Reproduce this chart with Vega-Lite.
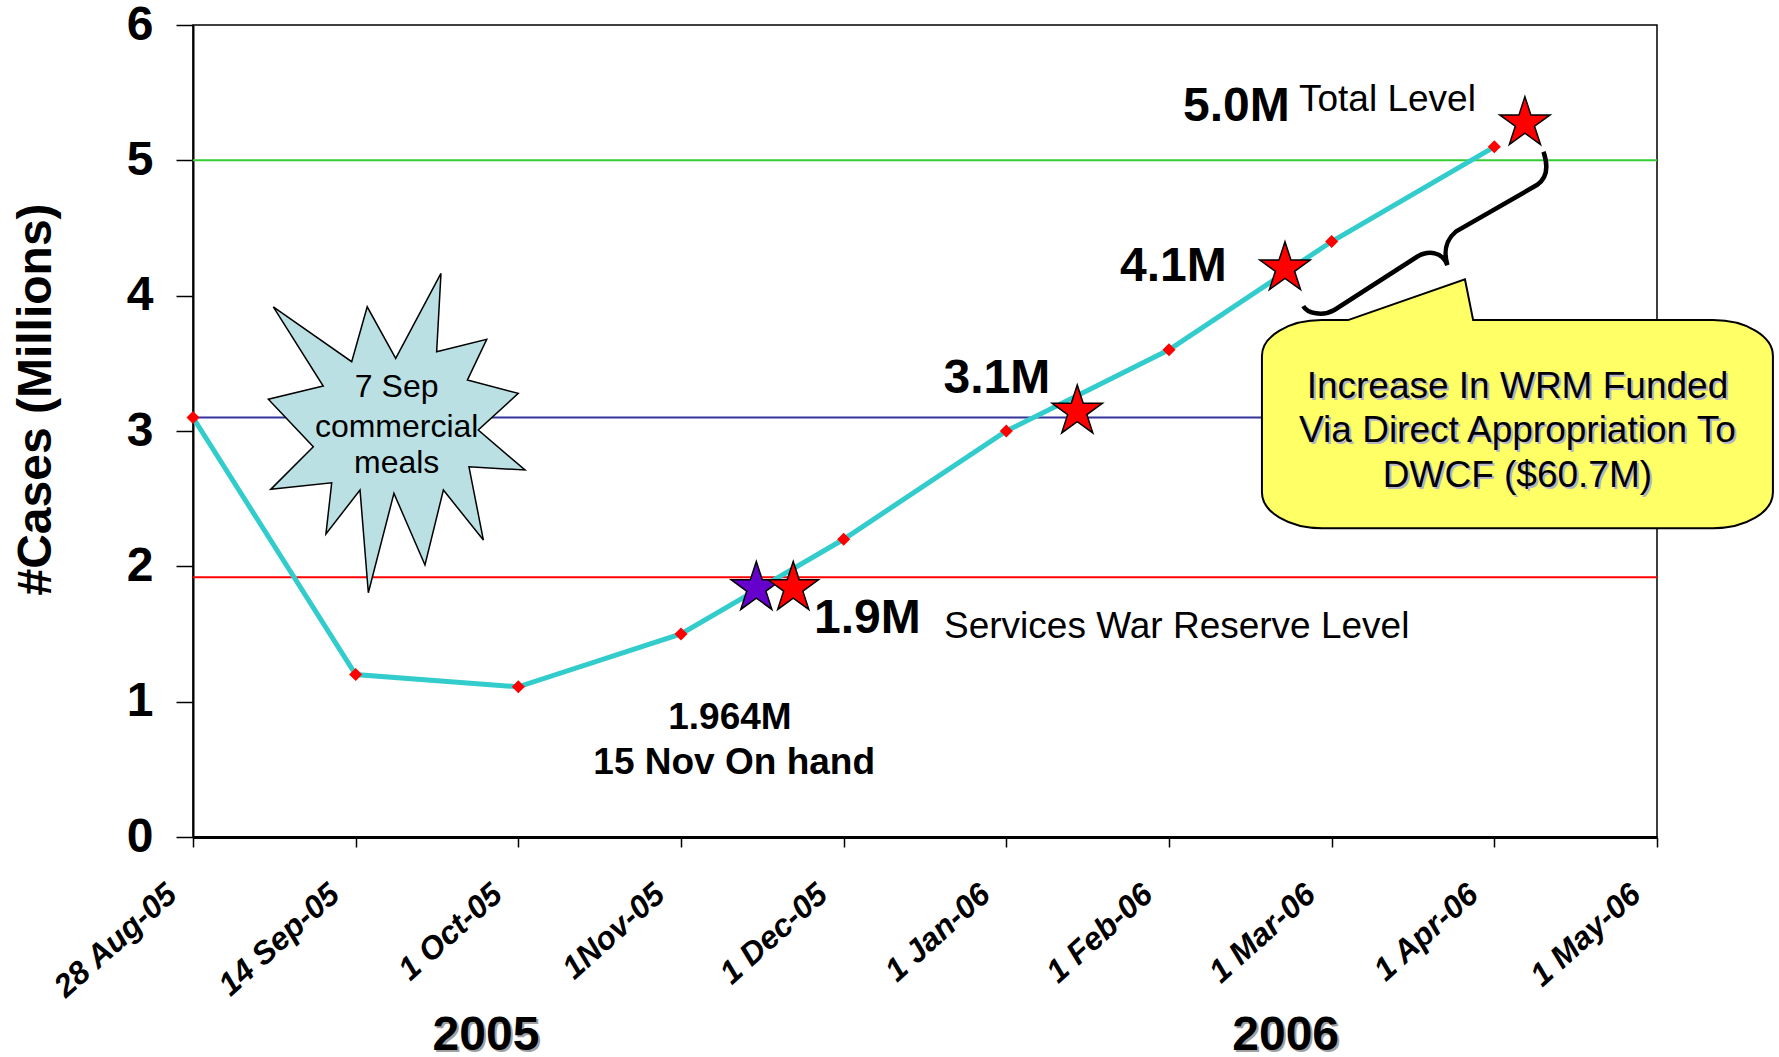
{
  "$schema": "https://vega.github.io/schema/vega-lite/v6.json",
  "autosize": {"type": "none"},
  "padding": {"left": 193, "top": 25, "right": 122, "bottom": 220},
  "width": 1464,
  "height": 812,
  "background": "white",
  "config": {
    "font": "Liberation Sans",
    "view": {"stroke": "black", "strokeWidth": 1.5}
  },
  "datasets": {
    "series": [
      {"idx": 0, "date": "28 Aug-05", "cases": 3.1},
      {"idx": 1, "date": "14 Sep-05", "cases": 1.2},
      {"idx": 2, "date": "1 Oct-05", "cases": 1.11},
      {"idx": 3, "date": "1Nov-05", "cases": 1.5},
      {"idx": 4, "date": "1 Dec-05", "cases": 2.2},
      {"idx": 5, "date": "1 Jan-06", "cases": 3.0},
      {"idx": 6, "date": "1 Feb-06", "cases": 3.6},
      {"idx": 7, "date": "1 Mar-06", "cases": 4.4},
      {"idx": 8, "date": "1 Apr-06", "cases": 5.1}
    ],
    "levels": [
      {"name": "Total Level", "value": 5.0},
      {"name": "Start Level", "value": 3.1},
      {"name": "Services War Reserve Level", "value": 1.92}
    ],
    "stars": [
      {"x": 3.463, "y": 1.84, "kind": "On hand"},
      {"x": 3.69, "y": 1.84, "kind": "Target"},
      {"x": 5.436, "y": 3.144, "kind": "Target"},
      {"x": 6.713, "y": 4.203, "kind": "Target"},
      {"x": 8.188, "y": 5.275, "kind": "Target"}
    ],
    "burst": [{"x": 1.251, "y": 2.985}],
    "burstText": [
      {"x": 1.252, "y": 3.249, "text": "7 Sep"},
      {"x": 1.252, "y": 2.958, "text": "commercial"},
      {"x": 1.252, "y": 2.687, "text": "meals"}
    ],
    "brace": [{"x": 7.58, "y": 4.454}],
    "callout": [{"x": 8.142, "y": 3.201}],
    "calloutText": [
      {"x": 8.142, "y": 3.242, "text": "Increase In WRM Funded"},
      {"x": 8.142, "y": 2.921, "text": "Via Direct Appropriation To"},
      {"x": 8.142, "y": 2.589, "text": "DWCF ($60.7M)"}
    ],
    "bigLabels": [
      {"x": 6.086, "y": 5.29, "text": "5.0M"},
      {"x": 5.699, "y": 4.111, "text": "4.1M"},
      {"x": 4.614, "y": 3.279, "text": "3.1M"},
      {"x": 3.818, "y": 1.505, "text": "1.9M"}
    ],
    "plainLabels": [
      {"x": 6.799, "y": 5.367, "text": "Total Level"},
      {"x": 4.617, "y": 1.468, "text": "Services War Reserve Level"}
    ],
    "onHand": [
      {"x": 3.301, "y": 0.796, "text": "1.964M"},
      {"x": 3.327, "y": 0.466, "text": "15 Nov On hand"}
    ],
    "years": [
      {"x": 1.801, "y": -1.574, "text": "2005"},
      {"x": 6.717, "y": -1.574, "text": "2006"}
    ]
  },
  "layer": [
    {
      "data": {"name": "levels"},
      "mark": {"type": "rule", "strokeWidth": 2},
      "encoding": {
        "y": {"field": "value", "type": "quantitative", "scale": {"domain": [0, 6], "nice": false, "zero": false}},
        "color": {"field": "name", "type": "nominal", "legend": null,
          "scale": {"domain": ["Total Level", "Start Level", "Services War Reserve Level"], "range": ["#33CC33", "#333399", "#FF0000"]}}
      }
    },
    {
      "data": {"name": "series"},
      "mark": {"type": "line", "color": "#33CCCC", "strokeWidth": 5},
      "encoding": {
        "x": {"field": "idx", "type": "quantitative",
          "scale": {"domain": [0, 9], "nice": false, "zero": false},
          "axis": {
            "title": null, "grid": false,
            "values": [0, 1, 2, 3, 4, 5, 6, 7, 8, 9],
            "labelExpr": "['28 Aug-05','14 Sep-05','1 Oct-05','1Nov-05','1 Dec-05','1 Jan-06','1 Feb-06','1  Mar-06','1 Apr-06','1 May-06'][datum.value]",
            "labelAngle": -42, "labelAlign": "right", "labelBaseline": "bottom",
            "labelFontSize": 32, "labelFontWeight": "bold", "labelFontStyle": "italic",
            "labelColor": "black", "labelPadding": 55, "labelOffset": -10, "labelFlush": false, "labelOverlap": false, "labelBound": false,
            "tickSize": 10, "tickColor": "black", "tickWidth": 1.5,
            "domainColor": "black", "domainWidth": 3
          }},
        "y": {"field": "cases", "type": "quantitative",
          "scale": {"domain": [0, 6], "nice": false, "zero": false},
          "axis": {
            "title": "#Cases (Millions)", "grid": false,
            "values": [0, 1, 2, 3, 4, 5, 6], "format": "d",
            "labelFontSize": 48, "labelFontWeight": "bold", "labelColor": "black", "labelPadding": 23,
            "labelFlush": false, "labelOverlap": false,
            "tickSize": 17, "tickColor": "black", "tickWidth": 1.5,
            "domainColor": "black", "domainWidth": 2,
            "titleFontSize": 48, "titleFontWeight": "bold", "titleColor": "black",
            "titleX": -157, "titleY": 374, "titleAngle": 270, "titleAlign": "center", "titleBaseline": "middle"
          }}
      }
    },
    {
      "data": {"name": "series"},
      "mark": {"type": "point", "shape": "diamond", "filled": true, "color": "#FF0000", "size": 170, "opacity": 1},
      "encoding": {
        "x": {"field": "idx", "type": "quantitative", "scale": {"domain": [0, 9], "nice": false, "zero": false}},
        "y": {"field": "cases", "type": "quantitative", "scale": {"domain": [0, 6], "nice": false, "zero": false}}
      }
    },
    {
      "data": {"name": "burst"},
      "mark": {"type": "point", "filled": true, "fill": "#BBE0E3", "stroke": "black", "strokeWidth": 1.5, "opacity": 1, "size": 102400,
        "shape": "M-0.770,-0.789L-0.280,-0.446L-0.183,-0.789L-0.005,-0.467L0.278,-0.998L0.251,-0.508L0.564,-0.586L0.443,-0.331L0.761,-0.248L0.511,-0.019L0.803,0.231L0.453,0.211L0.543,0.669L0.293,0.356L0.178,0.825L-0.016,0.377L-0.176,0.998L-0.228,0.356L-0.441,0.631L-0.405,0.311L-0.786,0.352L-0.520,0.086L-0.801,-0.211L-0.458,-0.294Z"},
      "encoding": {
        "x": {"field": "x", "type": "quantitative", "scale": {"domain": [0, 9], "nice": false, "zero": false}},
        "y": {"field": "y", "type": "quantitative", "scale": {"domain": [0, 6], "nice": false, "zero": false}}
      }
    },
    {
      "data": {"name": "burstText"},
      "mark": {"type": "text", "fontSize": 32, "align": "center", "baseline": "alphabetic", "color": "black"},
      "encoding": {
        "x": {"field": "x", "type": "quantitative", "scale": {"domain": [0, 9], "nice": false, "zero": false}},
        "y": {"field": "y", "type": "quantitative", "scale": {"domain": [0, 6], "nice": false, "zero": false}},
        "text": {"field": "text"}
      }
    },
    {
      "data": {"name": "brace"},
      "mark": {"type": "point", "filled": false, "color": "black", "strokeWidth": 4.5, "opacity": 1, "size": 65536,
        "shape": "M-0.959,0.561C-0.927,0.618,-0.809,0.645,-0.716,0.592L-0.070,0.176C0.022,0.123,0.127,0.137,0.167,0.241C0.141,0.149,0.141,0.059,0.233,-0.020L0.866,-0.384C0.945,-0.437,0.958,-0.527,0.918,-0.645"},
      "encoding": {
        "x": {"field": "x", "type": "quantitative", "scale": {"domain": [0, 9], "nice": false, "zero": false}},
        "y": {"field": "y", "type": "quantitative", "scale": {"domain": [0, 6], "nice": false, "zero": false}}
      }
    },
    {
      "data": {"name": "callout"},
      "mark": {"type": "point", "filled": true, "fill": "#FFFF66", "stroke": "black", "strokeWidth": 2, "opacity": 1, "size": 262144,
        "shape": "M-0.662,-0.327L-0.205,-0.486L-0.173,-0.327L0.764,-0.327C0.893,-0.327,0.998,-0.264,0.998,-0.187L0.998,0.346C0.998,0.423,0.893,0.486,0.764,0.486L-0.764,0.486C-0.893,0.486,-0.998,0.423,-0.998,0.346L-0.998,-0.187C-0.998,-0.264,-0.893,-0.327,-0.764,-0.327Z"},
      "encoding": {
        "x": {"field": "x", "type": "quantitative", "scale": {"domain": [0, 9], "nice": false, "zero": false}},
        "y": {"field": "y", "type": "quantitative", "scale": {"domain": [0, 6], "nice": false, "zero": false}}
      }
    },
    {
      "data": {"name": "calloutText"},
      "mark": {"type": "text", "fontSize": 37, "align": "center", "baseline": "alphabetic", "color": "#B4B4C8", "dx": 2, "dy": 2},
      "encoding": {
        "x": {"field": "x", "type": "quantitative", "scale": {"domain": [0, 9], "nice": false, "zero": false}},
        "y": {"field": "y", "type": "quantitative", "scale": {"domain": [0, 6], "nice": false, "zero": false}},
        "text": {"field": "text"}
      }
    },
    {
      "data": {"name": "calloutText"},
      "mark": {"type": "text", "fontSize": 37, "align": "center", "baseline": "alphabetic", "color": "black"},
      "encoding": {
        "x": {"field": "x", "type": "quantitative", "scale": {"domain": [0, 9], "nice": false, "zero": false}},
        "y": {"field": "y", "type": "quantitative", "scale": {"domain": [0, 6], "nice": false, "zero": false}},
        "text": {"field": "text"}
      }
    },
    {
      "data": {"name": "stars"},
      "mark": {"type": "point", "filled": true, "stroke": "black", "strokeWidth": 1.5, "opacity": 1, "size": 2809,
        "shape": "M0,-1L0.225,-0.309L0.951,-0.309L0.363,0.118L0.588,0.809L0,0.382L-0.588,0.809L-0.363,0.118L-0.951,-0.309L-0.225,-0.309Z"},
      "encoding": {
        "x": {"field": "x", "type": "quantitative", "scale": {"domain": [0, 9], "nice": false, "zero": false}},
        "y": {"field": "y", "type": "quantitative", "scale": {"domain": [0, 6], "nice": false, "zero": false}},
        "fill": {"field": "kind", "type": "nominal", "legend": null,
          "scale": {"domain": ["On hand", "Target"], "range": ["#6600CC", "#FF0000"]}}
      }
    },
    {
      "data": {"name": "bigLabels"},
      "mark": {"type": "text", "fontSize": 48, "fontWeight": "bold", "align": "left", "baseline": "alphabetic", "color": "black"},
      "encoding": {
        "x": {"field": "x", "type": "quantitative", "scale": {"domain": [0, 9], "nice": false, "zero": false}},
        "y": {"field": "y", "type": "quantitative", "scale": {"domain": [0, 6], "nice": false, "zero": false}},
        "text": {"field": "text"}
      }
    },
    {
      "data": {"name": "plainLabels"},
      "mark": {"type": "text", "fontSize": 37, "align": "left", "baseline": "alphabetic", "color": "black"},
      "encoding": {
        "x": {"field": "x", "type": "quantitative", "scale": {"domain": [0, 9], "nice": false, "zero": false}},
        "y": {"field": "y", "type": "quantitative", "scale": {"domain": [0, 6], "nice": false, "zero": false}},
        "text": {"field": "text"}
      }
    },
    {
      "data": {"name": "onHand"},
      "mark": {"type": "text", "fontSize": 37, "fontWeight": "bold", "align": "center", "baseline": "alphabetic", "color": "black"},
      "encoding": {
        "x": {"field": "x", "type": "quantitative", "scale": {"domain": [0, 9], "nice": false, "zero": false}},
        "y": {"field": "y", "type": "quantitative", "scale": {"domain": [0, 6], "nice": false, "zero": false}},
        "text": {"field": "text"}
      }
    },
    {
      "data": {"name": "years"},
      "mark": {"type": "text", "fontSize": 48, "fontWeight": "bold", "align": "center", "baseline": "alphabetic", "color": "#A0A0A0", "dx": 2, "dy": 2},
      "encoding": {
        "x": {"field": "x", "type": "quantitative", "scale": {"domain": [0, 9], "nice": false, "zero": false}},
        "y": {"field": "y", "type": "quantitative", "scale": {"domain": [0, 6], "nice": false, "zero": false}},
        "text": {"field": "text"}
      }
    },
    {
      "data": {"name": "years"},
      "mark": {"type": "text", "fontSize": 48, "fontWeight": "bold", "align": "center", "baseline": "alphabetic", "color": "black"},
      "encoding": {
        "x": {"field": "x", "type": "quantitative", "scale": {"domain": [0, 9], "nice": false, "zero": false}},
        "y": {"field": "y", "type": "quantitative", "scale": {"domain": [0, 6], "nice": false, "zero": false}},
        "text": {"field": "text"}
      }
    }
  ]
}
